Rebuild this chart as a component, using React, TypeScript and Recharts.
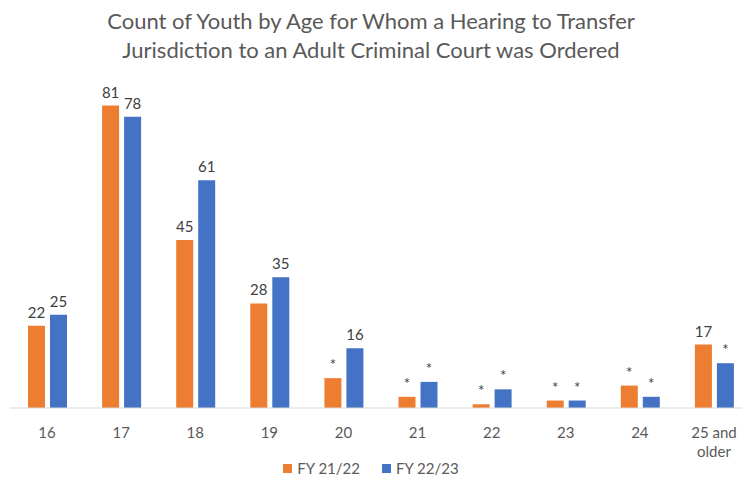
import React from 'react';
import { BarChart, Bar, XAxis, YAxis, LabelList } from 'recharts';

const ageGroups = ['16', '17', '18', '19', '20', '21', '22', '23', '24', '25 and older'];
const fy2122 = [22, 81, 45, 28, 8, 3, 1, 2, 6, 17];
const fy2223 = [25, 78, 61, 35, 16, 7, 5, 2, 3, 12];
// values under 10 are suppressed in the published labels
const fy2122Labels = ['22', '81', '45', '28', '*', '*', '*', '*', '*', '17'];
const fy2223Labels = ['25', '78', '61', '35', '16', '*', '*', '*', '*', '*'];

const ORANGE = '#ED7D31';
const BLUE = '#4472C4';
const FONT = 'Lato, "Liberation Sans", sans-serif';

const data = ageGroups.map((age, i) => ({
    age,
    fy2122: fy2122[i],
    fy2223: fy2223[i],
    l2122: fy2122Labels[i],
    l2223: fy2223Labels[i],
}));

// split "25 and older" onto two lines like the original axis
const AgeTick = (props: any) => {
    const { x, y, payload } = props;
    const text: string = payload.value;
    const lines = text.length > 6 ? [text.slice(0, text.lastIndexOf(' ')), text.slice(text.lastIndexOf(' ') + 1)] : [text];
    return (
        <text x={x} y={y} textAnchor="middle" fill="#595959" fontSize={15} fontFamily={FONT}>
            {lines.map((line, i) => (
                <tspan key={i} x={x} dy={i === 0 ? 22 : 19}>{line}</tspan>
            ))}
        </text>
    );
};

export default function App() {
    return (
        <div style={{ position: 'absolute', left: 0, top: 0, width: 742, height: 481, overflow: 'hidden', background: '#fff', fontFamily: FONT }}>
            <div style={{ position: 'absolute', top: 6, left: 0, width: 742, textAlign: 'center', color: '#595959', fontSize: 22, lineHeight: '29px' }}>
                Count of Youth by Age for Whom a Hearing to Transfer<br />
                Jurisdiction to an Adult Criminal Court was Ordered
            </div>
            <BarChart
                width={760}
                height={481}
                data={data}
                margin={{ top: 72, right: 9, left: 10, bottom: 0 }}
                barGap={5}
                barCategoryGap={17}
                style={{ position: 'absolute', left: 0, top: 0 }}
            >
                <XAxis
                    dataKey="age"
                    axisLine={{ stroke: '#D9D9D9' }}
                    tickLine={false}
                    interval={0}
                    tick={<AgeTick />}
                    height={73}
                />
                <YAxis hide domain={[0, 90]} />
                <Bar dataKey="fy2122" fill={ORANGE} barSize={17} isAnimationActive={false}>
                    <LabelList dataKey="l2122" position="top" offset={8} fill="#404040" fontSize={15} fontFamily={FONT} />
                </Bar>
                <Bar dataKey="fy2223" fill={BLUE} barSize={17} isAnimationActive={false}>
                    <LabelList dataKey="l2223" position="top" offset={8} fill="#404040" fontSize={15} fontFamily={FONT} />
                </Bar>
            </BarChart>
            <div style={{ position: 'absolute', top: 459, left: 0, width: 742, display: 'flex', justifyContent: 'center', gap: 22, color: '#595959', fontSize: 15 }}>
                <span style={{ display: 'flex', alignItems: 'center', gap: 5 }}>
                    <span style={{ width: 9, height: 9, background: ORANGE, display: 'inline-block' }} />FY 21/22
                </span>
                <span style={{ display: 'flex', alignItems: 'center', gap: 5 }}>
                    <span style={{ width: 9, height: 9, background: BLUE, display: 'inline-block' }} />FY 22/23
                </span>
            </div>
        </div>
    );
}
